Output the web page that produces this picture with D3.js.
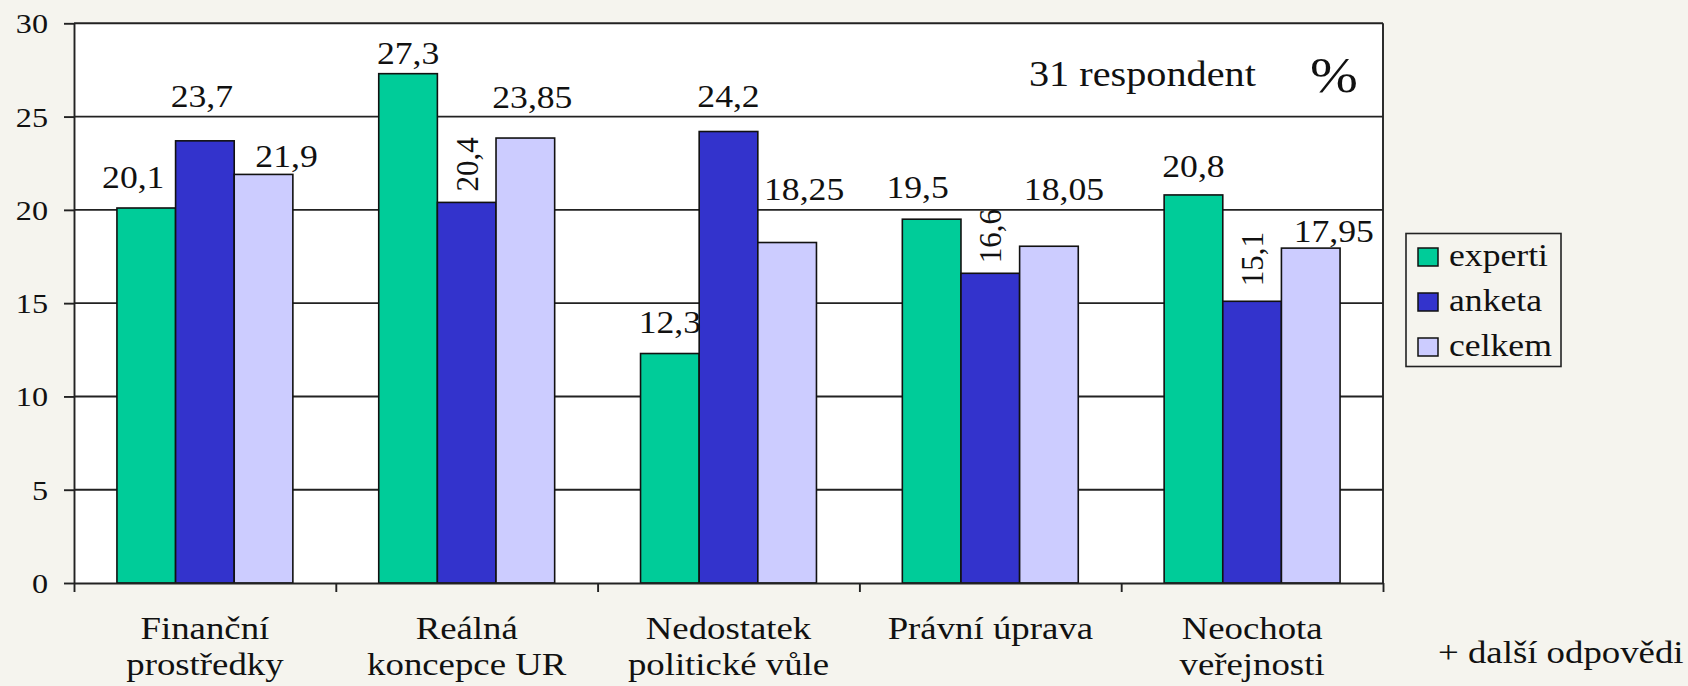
<!DOCTYPE html>
<html>
<head>
<meta charset="utf-8">
<script src="https://cdn.jsdelivr.net/npm/d3@7/dist/d3.min.js"></script>
<style>
  html, body { margin: 0; padding: 0; background: #f5f4ee; }
</style>
</head>
<body>
<svg id="chart" width="1688" height="686"></svg>
<script>
// data
var categories = [
    ["Finanční", "prostředky"],
    ["Reálná", "koncepce UR"],
    ["Nedostatek", "politické vůle"],
    ["Právní úprava"],
    ["Neochota", "veřejnosti"]
];
var seriesNames = ["experti", "anketa", "celkem"];
var experti = [20.1, 27.3, 12.3, 19.5, 20.8];
var anketa  = [23.7, 20.4, 24.2, 16.6, 15.1];
var celkem  = [21.9, 23.85, 18.25, 18.05, 17.95];
var yTicks  = [0, 5, 10, 15, 20, 25, 30];

// label placement nudges (the original labels were moved by hand) [dx, gap above bar]
var labelNudge = {
    experti: [[-13, 20], [0, 10], [0, 21], [-14, 21], [0, 18]],
    anketa:  [[-3, 34], [0, 11], [0, 25], [0, 10], [0, 15]],
    celkem:  [[23, 7], [7, 30], [17, 43], [15, 46], [23, 6]]
};
var rotatedLabel = { anketa: [false, true, false, true, true] };

var colors = { experti: "#00cc99", anketa: "#3333cc", celkem: "#ccccff" };
var stretch = 1.15;
var serif = "'Liberation Serif', 'Times New Roman', serif";

var svg = d3.select("#chart");
var plotLeft = 74, plotRight = 1383, plotTop = 23.3, plotBottom = 583;

var values = { experti: experti, anketa: anketa, celkem: celkem };

var x0 = d3.scaleBand()
    .domain(d3.range(categories.length))
    .range([plotLeft, plotRight])
    .paddingInner(0.328)
    .paddingOuter(0.164);

var x1 = d3.scaleBand()
    .domain(seriesNames)
    .range([0, x0.bandwidth()]);

var y = d3.scaleLinear().domain([0, 30]).range([plotBottom, plotTop]);

function label(g, x, yy, txt, size, anchor) {
    return g.append("text")
        .attr("transform", "translate(" + x + "," + yy + ") scale(" + stretch + ",1)")
        .attr("text-anchor", anchor || "middle")
        .attr("font-family", serif)
        .attr("font-size", size)
        .attr("fill", "#111")
        .text(txt);
}

// plot area
svg.append("rect")
    .attr("x", plotLeft).attr("y", plotTop)
    .attr("width", plotRight - plotLeft).attr("height", plotBottom - plotTop)
    .attr("fill", "#fff");

// gridlines
svg.append("g").selectAll("line")
    .data(yTicks.filter(function (d) { return d > 0; }))
    .enter().append("line")
    .attr("x1", plotLeft).attr("x2", plotRight)
    .attr("y1", function (d) { return y(d); })
    .attr("y2", function (d) { return y(d); })
    .attr("stroke", "#222").attr("stroke-width", 1.9);

svg.append("line")
    .attr("x1", plotRight).attr("x2", plotRight)
    .attr("y1", plotTop).attr("y2", plotBottom)
    .attr("stroke", "#222").attr("stroke-width", 1.9);

// bars
var groups = svg.append("g").selectAll("g")
    .data(categories)
    .enter().append("g")
    .attr("transform", function (d, i) { return "translate(" + x0(i) + ",0)"; });

groups.selectAll("rect")
    .data(function (d, i) {
        return seriesNames.map(function (s) { return { s: s, v: values[s][i], i: i }; });
    })
    .enter().append("rect")
    .attr("x", function (d) { return x1(d.s); })
    .attr("y", function (d) { return y(d.v); })
    .attr("width", x1.bandwidth())
    .attr("height", function (d) { return y(0) - y(d.v); })
    .attr("fill", function (d) { return colors[d.s]; })
    .attr("stroke", "#111")
    .attr("stroke-width", 1.6);

// value labels
var labels = svg.append("g");
seriesNames.forEach(function (s) {
    values[s].forEach(function (v, i) {
        var cx = x0(i) + x1(s) + x1.bandwidth() / 2 + labelNudge[s][i][0];
        var by = y(v) - labelNudge[s][i][1];
        var txt = String(v).replace(".", ",");
        if (rotatedLabel[s] && rotatedLabel[s][i]) {
            labels.append("text")
                .attr("transform", "translate(" + (cx + 11) + "," + by + ") rotate(-90)")
                .attr("text-anchor", "start")
                .attr("font-family", serif)
                .attr("font-size", 31)
                .attr("fill", "#111")
                .text(txt);
        } else {
            label(labels, cx, by, txt, 31);
        }
    });
});

// y axis
var yAxis = svg.append("g")
    .attr("transform", "translate(" + plotLeft + ",0)")
    .call(d3.axisLeft(y).tickValues(yTicks).tickSize(10).tickSizeOuter(0).tickFormat(""));
yAxis.select(".domain").attr("stroke", "#222").attr("stroke-width", 1.9);
yAxis.selectAll(".tick line").attr("stroke", "#222").attr("stroke-width", 1.9);

var yLab = svg.append("g");
yTicks.forEach(function (d) {
    label(yLab, plotLeft - 26, y(d) + 10, d, 28, "end");
});

// x axis with ticks at the category boundaries
var xb = d3.scaleLinear().domain([0, categories.length]).range([plotLeft, plotRight]);
var xAxis = svg.append("g")
    .attr("transform", "translate(0," + plotBottom + ")")
    .call(d3.axisBottom(xb).ticks(categories.length).tickSize(9).tickSizeOuter(0).tickFormat(""));
xAxis.select(".domain").attr("stroke", "#222").attr("stroke-width", 1.9);
xAxis.selectAll(".tick line").attr("stroke", "#222").attr("stroke-width", 1.9);

// category labels
var catG = svg.append("g");
categories.forEach(function (lines, i) {
    var cx = x0(i) + x0.bandwidth() / 2;
    lines.forEach(function (t, k) {
        label(catG, cx, 639 + k * 36, t, 32);
    });
});

// notes
label(svg, 1029, 86, "31 respondent", 35, "start");
label(svg, 1310, 92, "%", 50, "start");
label(svg, 1438, 663, "+ další odpovědi", 32, "start");

// legend
var legend = svg.append("g");
legend.append("rect")
    .attr("x", 1406).attr("y", 233.5)
    .attr("width", 155).attr("height", 133)
    .attr("fill", "none").attr("stroke", "#222").attr("stroke-width", 1.6);
seriesNames.forEach(function (s, k) {
    var cy = 257 + k * 45;
    legend.append("rect")
        .attr("x", 1418).attr("y", cy - 9)
        .attr("width", 20).attr("height", 18)
        .attr("fill", colors[s]).attr("stroke", "#111").attr("stroke-width", 1.5);
    label(legend, 1449, cy + 9, s, 31, "start");
});
</script>
</body>
</html>
